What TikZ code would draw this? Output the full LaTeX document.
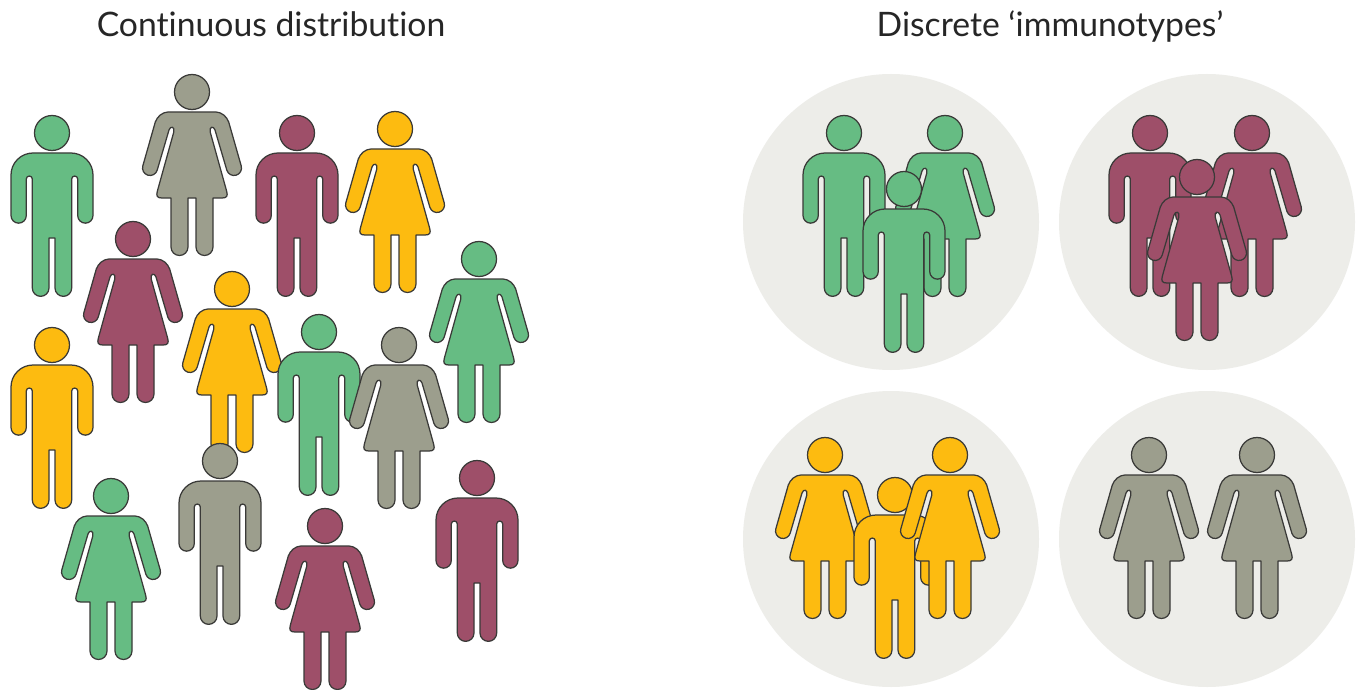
\documentclass[tikz,border=0pt]{standalone}
\usepackage{fontspec}
\setmainfont{Lato}[Ligatures=NoCommon]
\definecolor{figgreen}{HTML}{66BC83}
\definecolor{figgray}{HTML}{9C9E8D}
\definecolor{figmaroon}{HTML}{9E4F69}
\definecolor{figyellow}{HTML}{FDBB10}
\definecolor{figline}{HTML}{3A3A38}
\definecolor{groupbg}{HTML}{EDEDE9}
\tikzset{
  figure outline/.style={draw=figline,line width=1.25pt,line join=round},
  title text/.style={anchor=base,font=\fontsize{33.7}{40}\selectfont,text=black!85},
  group disc/.style={fill=groupbg,draw=none},
  pics/man/.style={code={
    \path[figure outline,fill=#1] (-3,-105) -- (3,-105) -- (3,-155)
      arc[start angle=180,end angle=360,radius=8.35pt] -- (19.7,-46)
      arc[start angle=180,end angle=0,radius=3pt] -- (25.7,-82.5)
      arc[start angle=180,end angle=360,radius=7.65pt] -- (41,-42)
      arc[start angle=0,end angle=90,radius=22pt] -- (-19,-20)
      arc[start angle=90,end angle=180,radius=22pt] -- (-41,-82.5)
      arc[start angle=180,end angle=360,radius=7.65pt] -- (-25.7,-46)
      arc[start angle=180,end angle=0,radius=3pt] -- (-19.7,-155)
      arc[start angle=180,end angle=360,radius=8.35pt] -- cycle;
    \path[figure outline,fill=#1] (0,0) circle[radius=17.5pt];
  }},
  pics/woman/.style={code={
    \path[figure outline,fill=#1] (-24,-20) -- (24,-20)
      .. controls (29.2,-20) and (34.9,-24.5) .. (36.7,-30) -- (49.2,-73.85)
      arc[start angle=16.7,end angle=-163.3,radius=7.5pt] -- (23,-38)
      .. controls (21.5,-33.5) and (17,-34.5) .. (18.2,-40) -- (34.6,-99)
      .. controls (36,-104) and (35,-106) .. (30,-106) -- (21,-106) -- (21,-155)
      arc[start angle=0,end angle=-180,radius=8.5pt] -- (4,-106) -- (-4,-106) -- (-4,-155)
      arc[start angle=0,end angle=-180,radius=8.5pt] -- (-21,-106) -- (-30,-106)
      .. controls (-35,-106) and (-36,-104) .. (-34.6,-99) -- (-18.2,-40)
      .. controls (-17,-34.5) and (-21.5,-33.5) .. (-23,-38) -- (-34.8,-78.15)
      arc[start angle=-16.7,end angle=-196.7,radius=7.5pt] -- (-36.7,-30)
      .. controls (-34.9,-24.5) and (-29.2,-20) .. (-24,-20) -- cycle;
    \path[figure outline,fill=#1] (0,0) circle[radius=17.5pt];
  }}
}
\begin{document}
\begin{tikzpicture}[x=1pt,y=1pt]
\useasboundingbox[fill=white] (0,-690) rectangle (1360,0);
\node[title text] (titleleft) at (271,-37) {Continuous distribution};
\node[title text] (titleright) at (1050,-37) {Discrete ‘immunotypes’};
% left field
\pic at (52,-133) {man=figgreen};
\pic at (192,-92) {woman=figgray};
\pic at (297,-133) {man=figmaroon};
\pic at (395,-129) {woman=figyellow};
\pic at (133,-239) {woman=figmaroon};
\pic at (479,-259) {woman=figgreen};
\pic at (52,-345) {man=figyellow};
\pic at (232,-289) {woman=figyellow};
\pic at (319,-332) {man=figgreen};
\pic at (399,-345) {woman=figgray};
\pic at (111,-496) {woman=figgreen};
\pic at (220,-461) {man=figgray};
\pic at (325,-526) {woman=figmaroon};
\pic at (477,-478) {man=figmaroon};
% discs
\path[group disc] (891,-222) circle[radius=148pt];
\path[group disc] (1207,-222) circle[radius=148pt];
\path[group disc] (891,-539) circle[radius=148pt];
\path[group disc] (1207,-539) circle[radius=148pt];
% green group
\pic at (844,-133) {man=figgreen};
\pic at (945,-133) {woman=figgreen};
\pic at (904,-189) {man=figgreen};
% maroon group
\pic at (1150,-133) {man=figmaroon};
\pic at (1252,-133) {woman=figmaroon};
\pic at (1197,-177) {woman=figmaroon};
% yellow group
\pic at (825,-455) {woman=figyellow};
\pic at (895,-495) {man=figyellow};
\pic at (950,-455) {woman=figyellow};
% gray group
\pic at (1149,-455) {woman=figgray};
\pic at (1257,-455) {woman=figgray};
\end{tikzpicture}
\end{document}
